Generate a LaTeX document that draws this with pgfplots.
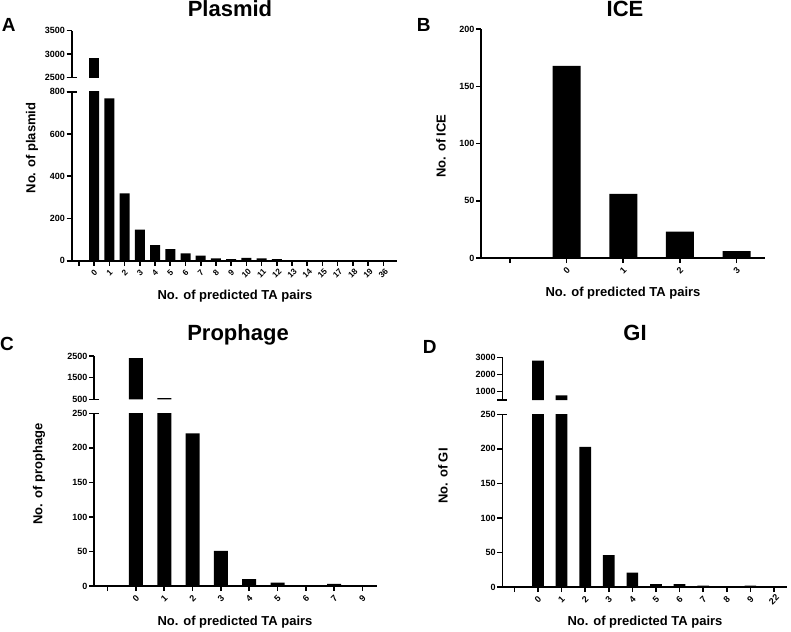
\documentclass[border=0pt]{standalone}
\usepackage{pgfplots}
\usepackage{pgfplotstable}
\pgfplotsset{compat=1.18}
\usepackage{fontspec}
\setmainfont{Liberation Sans}

\pgfplotstableread{
x v
1 2915
2 769
3 319
4 147
5 74
6 55
7 35
8 24
9 11
10 8
11 13
12 11
13 8
14 2
15 1
16 1
17 1
18 1
19 1
20 1
}\plasmid

\pgfplotstableread{
x v
1 168
2 56
3 23
4 6
}\ice

\pgfplotstableread{
x v
1 2400
2 560
3 221
4 51
5 10
6 5
7 1
8 3
9 1
}\prophage

\pgfplotstableread{
x v
1 2800
2 770
3 203
4 46
5 21
6 4
7 4
8 2
9 1
10 2
11 1
}\gi

\pgfplotsset{
  panel/.style={
    scale only axis, anchor=south west,
    axis x line=bottom, axis y line=left,
    axis line style={line width=1.6pt, -},
    tick style={line width=1.6pt, black},
    major tick length=5pt, tick align=outside,
    ybar, enlargelimits=false, clip=true,
    ticklabel style={font=\bfseries\fontsize{9}{10}\selectfont},
    /pgf/number format/assume math mode=true,
    /pgf/number format/1000 sep={},
    scaled y ticks=false,
    yticklabel style={inner sep=1.5pt},
    x tick label style={anchor=center, yshift=-7.5pt, rotate=45, inner sep=0pt},
  },
  upper/.style={panel, axis x line=none, xtick=\empty},
  cap/.style={extra y ticks={#1}, extra y tick labels={}, extra y tick style={tick align=center, major tick length=10pt}},
}

\begin{document}
\begin{tikzpicture}
\useasboundingbox (0,0) rectangle (791pt,-631pt);

% ---------------- A: Plasmid ----------------
\begin{axis}[panel, at={(71.7pt,-260.7pt)}, width=325.3pt, height=169pt,
  xmin=-0.48, xmax=20.9, ymin=0, ymax=800, ytick={0,200,400,600,800},
  xtick={0,...,20}, xticklabels={,0,1,2,3,4,5,6,7,8,9,10,11,12,13,14,15,17,18,19,36},
  x tick label style={font=\bfseries\fontsize{8.3}{9}\selectfont},
  bar width=10pt, cap=800]
\addplot[fill=black, draw=none] table[x=x, y=v] {\plasmid};
\end{axis}
\begin{axis}[upper, at={(71.7pt,-77.7pt)}, width=325.3pt, height=47pt,
  xmin=-0.48, xmax=20.9, ymin=2500, ymax=3500, ytick={2500,3000,3500},
  bar width=10pt, cap=2500]
\addplot[fill=black, draw=none, restrict y to domain=2500:100000] table[x=x, y=v] {\plasmid};
\end{axis}

% ---------------- B: ICE ----------------
\begin{axis}[panel, at={(481pt,-258pt)}, width=284pt, height=228.7pt,
  xmin=-0.51, xmax=4.5, ymin=0, ymax=200, ytick={0,50,100,150,200},
  xtick={0,...,4}, xticklabels={,0,1,2,3},
  bar width=28pt]
\addplot[fill=black, draw=none] table[x=x, y=v] {\ice};
\end{axis}

% ---------------- C: Prophage ----------------
\begin{axis}[panel, at={(94pt,-586pt)}, width=282.7pt, height=172.7pt,
  xmin=-0.48, xmax=9.5, ymin=0, ymax=250, ytick={0,50,100,150,200,250},
  xtick={0,...,9}, xticklabels={,0,1,2,3,4,5,6,7,9},
  bar width=14pt, cap=250]
\addplot[fill=black, draw=none] table[x=x, y=v] {\prophage};
\end{axis}
\begin{axis}[upper, at={(94pt,-399.3pt)}, width=282.7pt, height=43.3pt,
  xmin=-0.48, xmax=9.5, ymin=500, ymax=2500, ytick={500,1500,2500},
  bar width=14pt, cap=500]
\addplot[fill=black, draw=none, restrict y to domain=500:100000] table[x=x, y=v] {\prophage};
\end{axis}

% ---------------- D: GI ----------------
\begin{axis}[panel, at={(502.3pt,-587pt)}, width=284.4pt, height=172.7pt,
  xmin=-0.51, xmax=11.54, ymin=0, ymax=250, ytick={0,50,100,150,200,250},
  xtick={0,...,11}, xticklabels={,0,1,2,3,4,5,6,7,8,9,22},
  bar width=11.7pt, cap=250]
\addplot[fill=black, draw=none] table[x=x, y=v] {\gi};
\end{axis}
\begin{axis}[upper, at={(502.3pt,-400pt)}, width=284.4pt, height=42.7pt,
  xmin=-0.51, xmax=11.54, ymin=500, ymax=3000, ytick={1000,2000,3000},
  bar width=11.7pt, cap=500]
\addplot[fill=black, draw=none, restrict y to domain=500:100000] table[x=x, y=v] {\gi};
\end{axis}

% ---------------- titles and labels ----------------
\begin{scope}[every node/.style={inner sep=0pt}]
\node[font=\bfseries\fontsize{22}{24}\selectfont, anchor=base] at (230pt,-16.7pt) {Plasmid};
\node[font=\bfseries\fontsize{22}{24}\selectfont, anchor=base] at (625pt,-16.7pt) {ICE};
\node[font=\bfseries\fontsize{22}{24}\selectfont, anchor=base] at (238pt,-340pt) {Prophage};
\node[font=\bfseries\fontsize{22}{24}\selectfont, anchor=base] at (635pt,-340pt) {GI};

\node[font=\bfseries\fontsize{19}{21}\selectfont, anchor=base west] at (1.7pt,-31.7pt) {A};
\node[font=\bfseries\fontsize{19}{21}\selectfont, anchor=base west] at (416.7pt,-31.7pt) {B};
\node[font=\bfseries\fontsize{19}{21}\selectfont, anchor=base west] at (0pt,-350pt) {C};
\node[font=\bfseries\fontsize{19}{21}\selectfont, anchor=base west] at (422.7pt,-353pt) {D};

\node[font=\bfseries\fontsize{13}{15}\selectfont, rotate=90] at (32pt,-148pt) {No. of plasmid};
\node[font=\bfseries\fontsize{13}{15}\selectfont, rotate=90] at (441pt,-146pt) {No. of ICE};
\node[font=\bfseries\fontsize{13}{15}\selectfont, rotate=90] at (39pt,-474pt) {No. of prophage};
\node[font=\bfseries\fontsize{13}{15}\selectfont, rotate=90] at (443pt,-476pt) {No. of GI};

\node[font=\bfseries\fontsize{13}{15}\selectfont] at (235pt,-296pt) {No. of predicted TA pairs};
\node[font=\bfseries\fontsize{13}{15}\selectfont] at (623pt,-293pt) {No. of predicted TA pairs};
\node[font=\bfseries\fontsize{13}{15}\selectfont] at (235pt,-621.7pt) {No. of predicted TA pairs};
\node[font=\bfseries\fontsize{13}{15}\selectfont] at (645pt,-622pt) {No. of predicted TA pairs};
\end{scope}
\end{tikzpicture}
\end{document}
